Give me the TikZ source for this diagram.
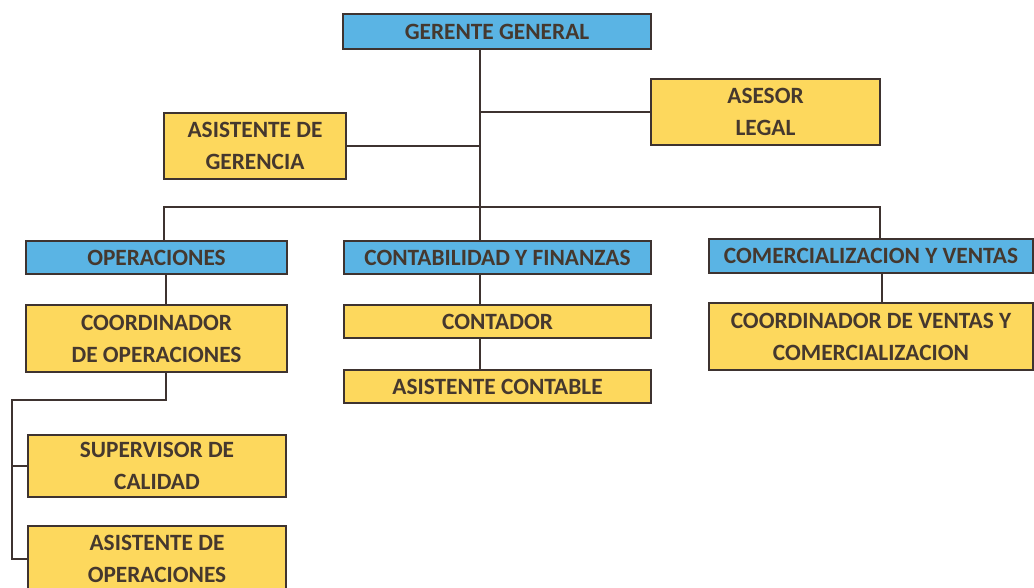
\documentclass[tikz,border=0pt]{standalone}
\usepackage{fontspec}
\setmainfont{Carlito}
\usepackage{xcolor}
\usetikzlibrary{positioning, calc}
\definecolor{areablue}{HTML}{5AB4E4}
\definecolor{postyellow}{HTML}{FDD85D}
\definecolor{edgegray}{HTML}{3E3330}
\definecolor{labelbrown}{HTML}{45382E}
\tikzset{
  unitbox/.style={draw=edgegray, line width=2pt, inner sep=0pt, align=center,
    font=\fontsize{17.5}{24}\selectfont\bfseries, text=labelbrown},
  areabox/.style={unitbox, fill=areablue},
  postbox/.style={unitbox, fill=postyellow},
  link/.style={draw=edgegray, line width=1.4pt}
}

\begin{document}
\begin{tikzpicture}[x=0.75pt, y=-0.75pt]
    \clip (0,0) rectangle (1034,587);
    % top level
    \node[areabox, minimum width=231pt, minimum height=26.25pt] (gerente) at (497,31.5) {GERENTE GENERAL};
    \node[postbox, minimum width=171.75pt, minimum height=49.5pt] (asesor) at (765.5,112) {ASESOR\\LEGAL};
    \node[postbox, minimum width=136.5pt, minimum height=49.5pt] (asisger) at (255,146) {ASISTENTE DE\\GERENCIA};
    % areas
    \node[areabox, minimum width=195.75pt, minimum height=24.75pt] (operac) at (156.5,257.5) {OPERACIONES};
    \node[areabox, minimum width=230.25pt, minimum height=24.75pt] (contab) at (497.5,257.5) {CONTABILIDAD Y FINANZAS};
    \node[areabox, minimum width=243pt, minimum height=25.5pt] (comerc) at (871,256) {COMERCIALIZACION Y VENTAS};
    % posts
    \node[postbox, minimum width=195.75pt, minimum height=50.25pt] (coordop) at (156.5,338.5) {COORDINADOR\\DE OPERACIONES};
    \node[postbox, minimum width=193.5pt, minimum height=46.5pt] (supcal) at (157,466) {SUPERVISOR DE\\CALIDAD};
    \node[postbox, minimum width=193.5pt, minimum height=49.5pt] (asisop) at (157,559) {ASISTENTE DE\\OPERACIONES};
    \node[postbox, minimum width=230.25pt, minimum height=24.75pt] (contador) at (497.5,321.5) {CONTADOR};
    \node[postbox, minimum width=230.25pt, minimum height=24.75pt] (asiscon) at (497.5,386.5) {ASISTENTE CONTABLE};
    \node[postbox, minimum width=243pt, minimum height=50.25pt] (coordven) at (871,336.5) {COORDINADOR DE VENTAS Y\\COMERCIALIZACION};

    % connectors
    \coordinate (trunk) at (480,207);
    \coordinate (busl) at (164,207);
    \coordinate (busr) at (880,207);
    \coordinate (opturn) at (166,400);
    \coordinate (spine) at (12,400);
    \coordinate (comx) at (882,0);
    \draw[link] (gerente.south -| trunk) -- (trunk) -- (contab.north -| trunk);
    \draw[link] (trunk |- asesor.west) -- (asesor.west);
    \draw[link] (asisger.east) -- (asisger.east -| trunk);
    \draw[link] (operac.north -| busl) -- (busl) -- (busr) -- (comerc.north -| busr);
    \draw[link] (operac.south -| opturn) -- (coordop.north -| opturn);
    \draw[link] (coordop.south -| opturn) -- (opturn) -- (spine) |- (asisop.west);
    \draw[link] (spine |- supcal.west) -- (supcal.west);
    \draw[link] (contab.south -| trunk) -- (contador.north -| trunk);
    \draw[link] (contador.south -| trunk) -- (asiscon.north -| trunk);
    \draw[link] (comerc.south -| comx) -- (coordven.north -| comx);
\end{tikzpicture}
\end{document}
